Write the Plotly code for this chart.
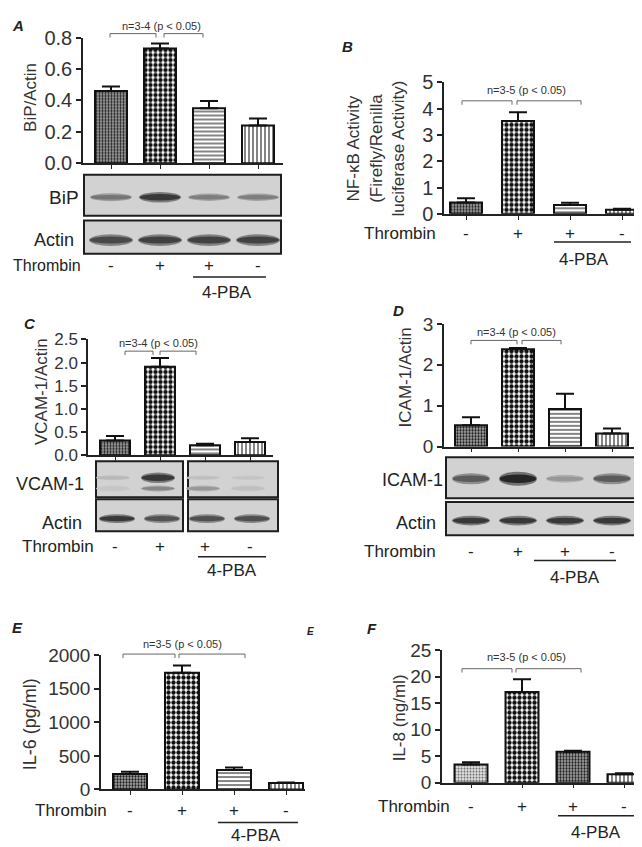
import plotly.graph_objects as go

W, H = 642, 847
FONT = "Liberation Sans, Arial, sans-serif"
INK = "#222222"

# ---- data ----
lanes = [0, 1, 2, 3]
thrombin_signs = ["-", "+", "+", "-"]

bip_mean = [0.46, 0.73, 0.35, 0.24]
bip_err = [0.028, 0.032, 0.045, 0.045]
nfkb_mean = [0.43, 3.53, 0.33, 0.15]
nfkb_err = [0.16, 0.33, 0.09, 0.04]
vcam_mean = [0.32, 1.91, 0.22, 0.29]
vcam_err = [0.10, 0.19, 0.03, 0.08]
icam_mean = [0.52, 2.38, 0.92, 0.32]
icam_err = [0.20, 0.03, 0.37, 0.12]
il6_mean = [231, 1735, 289, 96]
il6_err = [34, 111, 39, 6]
il8_mean = [3.4, 17.1, 5.85, 1.6]
il8_err = [0.43, 2.4, 0.15, 0.18]

# western blot band darkness per lane (0 = none, 1 = black)
bip_band = [0.5, 0.85, 0.45, 0.45]
bip_actin = [0.75, 0.8, 0.8, 0.8]
vcam_band_top = [0.12, 0.85, 0.08, 0.05]
vcam_band_low = [0.04, 0.4, 0.3, 0.08]
vcam_actin = [0.85, 0.7, 0.72, 0.72]
icam_band = [0.65, 0.95, 0.3, 0.65]
icam_actin = [0.85, 0.85, 0.85, 0.85]

# ---- bar fill patterns ----
STIP = dict(shape=".", fg="#1a1a1a", bg="#a8a8a8", size=3, sol=0.45)
CHECK = dict(shape=".", fg="#111111", bg="#ffffff", size=5, sol=0.6)
HLINE = dict(shape="-", fg="#333333", bg="#ffffff", size=4, sol=0.3)
VLINE = dict(shape="|", fg="#333333", bg="#ffffff", size=4, sol=0.3)
LIGHT = dict(shape=".", fg="#666666", bg="#e6e6e6", size=3, sol=0.4)

# ---- panel geometry (pixels) ----
panels = [
    dict(name="A", mean=bip_mean, err=bip_err, x0=75, x1=275, ytop=19, ybot=148, c0=103, dx=49, bw=32,
         ymax=0.8, dtick=0.2, fmt=".1f", tfs=20,
         pats=[STIP, CHECK, HLINE, VLINE],
         ytitle="BiP/Actin", yt_xy=(23, 80), yt_fs=17,
         letter=(10, 7), brk=(15, 102, 148, 156, 195), ntext="n=3-4 (p < 0.05)", nt_xy=(153, 7),
         thr=(74, 253, 16), pba=(185, 258, 265, 219, 281)),
    dict(name="B", mean=nfkb_mean, err=nfkb_err, x0=436, x1=639, ytop=65, ybot=200, c0=458, dx=52, bw=32,
         ymax=5, dtick=1, fmt="d", tfs=20,
         pats=[STIP, CHECK, HLINE, VLINE],
         ytitle="NF-\u03baB Activity<br>(Firefly/Renilla<br>luciferase Activity)", yt_xy=(368, 133), yt_fs=17,
         letter=(340, 28), brk=(84, 454, 504, 509, 573), ntext="n=3-5 (p < 0.05)", nt_xy=(518, 73),
         thr=(429, 220, 17), pba=(546, 623, 229, 576, 247)),
    dict(name="C", mean=vcam_mean, err=vcam_err, x0=80, x1=265, ytop=329, ybot=448, c0=107, dx=45, bw=30,
         ymax=2.5, dtick=0.5, fmt=".1f", tfs=17,
         pats=[STIP, CHECK, HLINE, VLINE],
         ytitle="VCAM-1/Actin", yt_xy=(33, 383), yt_fs=17,
         letter=(22, 313), brk=(341, 117, 145, 152, 188), ntext="n=3-4 (p < 0.05)", nt_xy=(150, 333),
         thr=(87, 542, 17), pba=(190, 258, 552, 224, 566)),
    dict(name="D", mean=icam_mean, err=icam_err, x0=436, x1=628, ytop=313, ybot=439, c0=463, dx=47, bw=32,
         ymax=3, dtick=1, fmt="d", tfs=19,
         pats=[STIP, CHECK, HLINE, VLINE],
         ytitle="ICAM-1/Actin", yt_xy=(397, 368), yt_fs=17,
         letter=(390, 299), brk=(330, 463, 509, 514, 553), ntext="n=3-4 (p < 0.05)", nt_xy=(508, 321),
         thr=(429, 547, 17), pba=(526, 608, 556, 567, 573)),
    dict(name="E", mean=il6_mean, err=il6_err, x0=93, x1=297, ytop=653, ybot=791, c0=122, dx=52, bw=34,
         ymax=2000, dtick=500, fmt="d", tfs=19,
         pats=[STIP, CHECK, HLINE, VLINE],
         ytitle="IL-6 (pg/ml)", yt_xy=(22, 724), yt_fs=18,
         letter=(9, 625), brk=(652, 115, 167, 171, 237), ntext="n=3-5 (p < 0.05)", nt_xy=(175, 642),
         thr=(100, 813, 17), pba=(210, 290, 825, 248, 838)),
    dict(name="F", mean=il8_mean, err=il8_err, x0=434, x1=641, ytop=648, ybot=784, c0=463, dx=51, bw=33,
         ymax=25, dtick=5, fmt="d", tfs=19,
         pats=[LIGHT, CHECK, STIP, VLINE],
         ytitle="IL-8 (ng/ml)", yt_xy=(391, 718), yt_fs=17,
         letter=(364, 626), brk=(667, 454, 504, 508, 573), ntext="n=3-5 (p < 0.05)", nt_xy=(518, 655),
         thr=(443, 808, 17), pba=(550, 626, 818, 588, 835)),
]


def px(x):
    return x / W


def py(y):
    return 1 - y / H


def lane_px(p, i):
    return p["c0"] + i * p["dx"]


fig = go.Figure()
layout = dict(width=W, height=H, margin=dict(l=0, r=0, t=0, b=0), barmode="overlay",
              paper_bgcolor="white", plot_bgcolor="rgba(0,0,0,0)", showlegend=False,
              font=dict(family=FONT, color=INK))
shapes = []
annotations = []


def text(x, y, s, size, xanchor="center", angle=0, bold_italic=False, color=INK):
    if bold_italic:
        s = "<b><i>" + s + "</i></b>"
    annotations.append(dict(x=px(x), y=py(y), xref="paper", yref="paper", text=s, showarrow=False,
                            xanchor=xanchor, yanchor="middle", textangle=angle, borderpad=0,
                            font=dict(size=size, family=FONT, color=color)))


def line(x0, y0, x1, y1, color=INK, width=1.5):
    shapes.append(dict(type="line", xref="paper", yref="paper", x0=px(x0), y0=py(y0), x1=px(x1), y1=py(y1),
                       line=dict(color=color, width=width)))


for k, p in enumerate(panels, start=1):
    xa = "xaxis" if k == 1 else f"xaxis{k}"
    ya = "yaxis" if k == 1 else f"yaxis{k}"
    xr = "x" if k == 1 else f"x{k}"
    yr = "y" if k == 1 else f"y{k}"
    for i in lanes:
        q = p["pats"][i]
        fig.add_trace(go.Bar(
            x=[i], y=[p["mean"][i]], xaxis=xr, yaxis=yr, width=p["bw"] / p["dx"],
            marker=dict(color=q["bg"], line=dict(color="#111111", width=2),
                        pattern=dict(shape=q["shape"], fgcolor=q["fg"], bgcolor=q["bg"],
                                     size=q["size"], solidity=q["sol"], fillmode="replace")),
            error_y=dict(type="data", array=[p["err"][i]], arrayminus=[0], symmetric=False,
                         color="#111111", thickness=2, width=9),
        ))
    layout[xa] = dict(domain=[px(p["x0"]), px(p["x1"])], anchor=yr,
                      range=[(p["x0"] - p["c0"]) / p["dx"], (p["x1"] - p["c0"]) / p["dx"]],
                      showline=True, linecolor=INK, linewidth=1.5, ticks="outside", ticklen=4,
                      tickcolor=INK, tickvals=lanes, showticklabels=False, showgrid=False, zeroline=False,
                      fixedrange=True)
    layout[ya] = dict(domain=[py(p["ybot"]), py(p["ytop"])], anchor=xr, range=[0, p["ymax"]],
                      dtick=p["dtick"], tickformat=p["fmt"], showline=True, linecolor=INK, linewidth=1.5,
                      ticks="outside", ticklen=5, tickcolor=INK, tickwidth=1.5, showgrid=False,
                      zeroline=False, tickfont=dict(size=p["tfs"], color="#333333", family=FONT),
                      fixedrange=True)

    # y title
    text(p["yt_xy"][0], p["yt_xy"][1], p["ytitle"], p["yt_fs"], angle=-90, color="#333333")
    # panel letter
    text(p["letter"][0], p["letter"][1], p["name"], 15, bold_italic=True)
    # significance brackets
    by, l0, l1, r0, r1 = p["brk"]
    for a, b in ((l0, l1), (r0, r1)):
        line(a, by, b, by, color="#666666", width=1)
        line(a, by, a, by + 4, color="#666666", width=1)
        line(b, by, b, by + 4, color="#666666", width=1)
    text(p["nt_xy"][0], p["nt_xy"][1], p["ntext"], 11, color="#333333")
    # thrombin row
    tx, ty, tfs = p["thr"]
    text(tx, ty, "Thrombin", tfs, xanchor="right")
    for i, s in enumerate(thrombin_signs):
        text(lane_px(p, i), ty, s, 17)
    # 4-PBA bar
    a, b, ly, cx, cy = p["pba"]
    line(a, ly, b, ly, color=INK, width=1.5)
    text(cx, cy, "4-PBA", 17)

# stray small panel mark
text(302, 629, "E", 10, bold_italic=True)


# ---- western blots ----
def blot_box(x0, x1, y0, y1):
    shapes.append(dict(type="rect", xref="paper", yref="paper", x0=px(x0), x1=px(x1), y0=py(y1), y1=py(y0),
                       fillcolor="#d2d2d2", line=dict(color="#1e1e1e", width=2), layer="below"))


def band(cx, cy, half_w, dark, thick):
    if dark <= 0.02:
        return
    for scale, frac in ((1.0, 0.55), (0.6, 1.0)):
        g = int(205 - 175 * dark * frac)
        hw = half_w * (0.9 + 0.1 * scale)
        hh = thick * scale
        shapes.append(dict(type="circle", xref="paper", yref="paper",
                           x0=px(cx - hw), x1=px(cx + hw), y0=py(cy + hh), y1=py(cy - hh),
                           fillcolor=f"rgb({g},{g},{g})", line=dict(width=0), layer="below"))


pA, pC, pD = panels[0], panels[2], panels[3]

# A: BiP / Actin
blot_box(76, 273, 160, 202)
blot_box(76, 273, 207, 241)
for i in lanes:
    band(lane_px(pA, i), 183, 21, bip_band[i], 2 + 4 * bip_band[i])
    band(lane_px(pA, i), 227, 22, bip_actin[i], 6)
text(72, 183, "BiP", 19, xanchor="right")
text(67, 227, "Actin", 18, xanchor="right")

# C: VCAM-1 / Actin (split gel)
blot_box(88, 175, 454, 491)
blot_box(180, 270, 454, 491)
blot_box(88, 175, 493, 526)
blot_box(180, 270, 493, 526)
for i in lanes:
    band(lane_px(pC, i) - 2, 471, 17, vcam_band_top[i], 2 + 4 * vcam_band_top[i])
    band(lane_px(pC, i) - 2, 482, 17, vcam_band_low[i], 3)
    band(lane_px(pC, i) + 2, 513, 18, vcam_actin[i], 4.5)
text(77, 477, "VCAM-1", 18, xanchor="right")
text(75, 517, "Actin", 18, xanchor="right")

# D: ICAM-1 / Actin
blot_box(438, 628, 450, 492)
blot_box(438, 628, 496, 530)
for i in lanes:
    band(lane_px(pD, i), 472, 19, icam_band[i], 2.5 + 5 * icam_band[i])
    band(lane_px(pD, i), 515, 19, icam_actin[i], 5)
text(436, 473, "ICAM-1", 18, xanchor="right")
text(429, 517, "Actin", 18, xanchor="right")

layout["shapes"] = shapes
layout["annotations"] = annotations
fig.update_layout(**layout)
fig.write_html("out.html")
